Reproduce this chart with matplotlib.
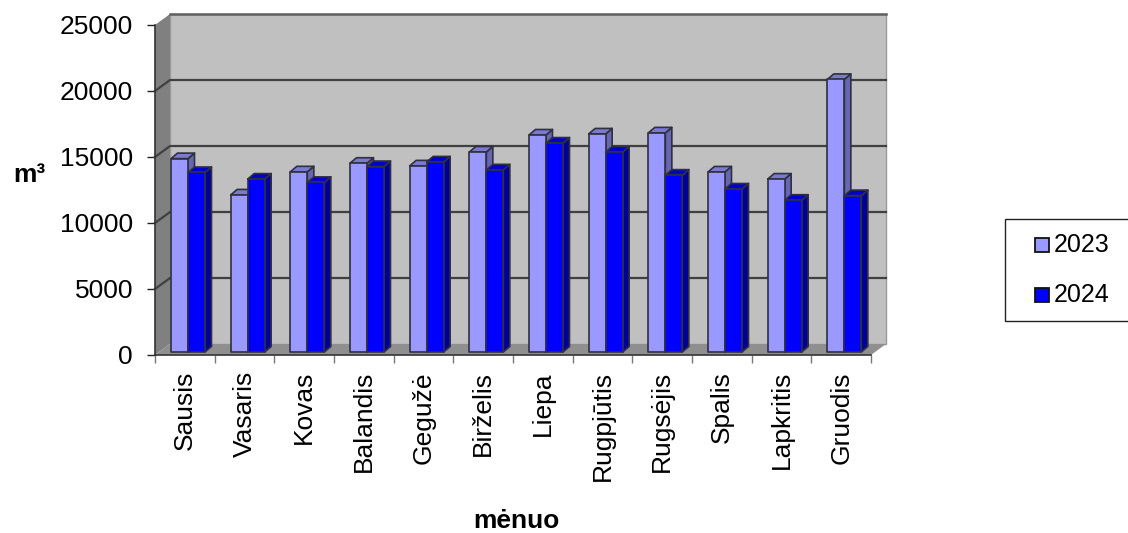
import matplotlib
matplotlib.use("Agg")
import matplotlib.pyplot as plt
import numpy as np
from matplotlib.lines import Line2D
from matplotlib.patches import Polygon, Rectangle

plt.rcParams["font.family"] = ["Liberation Sans", "DejaVu Sans"]

months = ["Sausis", "Vasaris", "Kovas", "Balandis", "Gegužė", "Birželis", "Liepa",
          "Rugpjūtis", "Rugsėjis", "Spalis", "Lapkritis", "Gruodis"]
values_2023 = [14650, 11900, 13650, 14300, 14100, 15150, 16440, 16520, 16600, 13640, 13100, 20650]
values_2024 = [13600, 13100, 12850, 14050, 14400, 13800, 15830, 15150, 13400, 12350, 11500, 11850]
y_ticks = [0, 5000, 10000, 15000, 20000, 25000]

W, H = 1128, 533
fig = plt.figure(figsize=(W / 100, H / 100), dpi=100)
# front plane of the fake 3d box, in pixels
left, right, top, bottom = 155, 871, 25, 355
ax = fig.add_axes([left / W, 1 - bottom / H, (right - left) / W, (bottom - top) / H])
ax.set_xlim(0, 12)
ax.set_ylim(0, 25000)
ax.patch.set_visible(False)

px_x = 12 / (right - left)
px_y = 25000 / (bottom - top)
wall_dx, wall_dy = 15 * px_x, 11 * px_y


def poly(points, face, edge="none", lw=0.0, z=1):
    ax.add_patch(Polygon(points, closed=True, facecolor=face, edgecolor=edge,
                         linewidth=lw, zorder=z, clip_on=False, joinstyle="round"))


# walls and floor
poly([(wall_dx, wall_dy), (12 + wall_dx, wall_dy), (12 + wall_dx, 25000 + wall_dy), (wall_dx, 25000 + wall_dy)],
     "#c0c0c0", "#9a9a9a", 1.0, 1)
poly([(0, 0), (wall_dx, wall_dy), (wall_dx, 25000 + wall_dy), (0, 25000)], "#808080", z=1)
poly([(0, 0), (12, 0), (12 + wall_dx, wall_dy), (wall_dx, wall_dy)], "#8f8f8f", z=1)

for tick in y_ticks[1:-1]:
    ax.plot([0, wall_dx, 12 + wall_dx], [tick, tick + wall_dy, tick + wall_dy],
            color="#404040", lw=1.6, zorder=2, clip_on=False, solid_joinstyle="round")
ax.plot([wall_dx, 12 + wall_dx], [25000 + wall_dy] * 2, color="#606060", lw=1.8, zorder=2, clip_on=False)

# bars, back-to-front is just left-to-right here
bar_w = 17 * px_x
bar_x0 = 16 * px_x
bar_y0 = 3 * px_y
depth_dx, depth_dy = 6.5 * px_x, 5.5 * px_y
edge = "#303040"
series = [(values_2023, "#9999ff", "#6666b3", "#7a7ad0"), (values_2024, "#0000ff", "#000099", "#0000cc")]

for i in range(len(months)):
    for s, (vals, front, side, cap) in enumerate(series):
        x0 = i + bar_x0 + s * bar_w
        x1 = x0 + bar_w
        y0 = bar_y0
        y1 = bar_y0 + vals[i]
        z = 3 + i + s * 0.1
        poly([(x1, y0), (x1 + depth_dx, y0 + depth_dy), (x1 + depth_dx, y1 + depth_dy), (x1, y1)], side, edge, 1.2, z)
        poly([(x0, y1), (x1, y1), (x1 + depth_dx, y1 + depth_dy), (x0 + depth_dx, y1 + depth_dy)], cap, edge, 1.2, z)
        poly([(x0, y0), (x1, y0), (x1, y1), (x0, y1)], front, edge, 1.2, z)

# axes
for name in ["top", "right"]:
    ax.spines[name].set_visible(False)
for name in ["left", "bottom"]:
    ax.spines[name].set_color("#333333")
    ax.spines[name].set_linewidth(1.2)
    ax.spines[name].set_zorder(30)

ax.set_yticks(y_ticks)
ax.set_xticks(np.arange(13))
ax.set_xticklabels([])
ax.tick_params(axis="y", length=5.8, width=1.0, color="#222222", labelsize=19, pad=10)
ax.tick_params(axis="x", length=5.8, width=1.0, color="#777777")

for i, name in enumerate(months):
    ax.annotate(name, (i + 0.5, 0), xytext=(0, -16 * 0.72), textcoords="offset points",
                rotation=90, ha="center", va="top", fontsize=19, annotation_clip=False)

fig.text(29.5 / W, 1 - 175 / H, "m³", fontsize=19, fontweight="bold", ha="center", va="center")
fig.text(516 / W, 1 - 521 / H, "mėnuo", fontsize=19, fontweight="bold", ha="center", va="center")

# legend box runs off the right side of the picture
fig.add_artist(Rectangle((1004.5 / W, 1 - 320.5 / H), 130 / W, 101.5 / H, transform=fig.transFigure,
                         facecolor="white", edgecolor="#222222", linewidth=1.0))
for label, color, y in [("2023", "#9999ff", 245), ("2024", "#0000ff", 295)]:
    fig.add_artist(Line2D([1042 / W], [1 - y / H], marker="s", markersize=9.5, markerfacecolor=color,
                          markeredgecolor="#111111", markeredgewidth=1.3, transform=fig.transFigure))
    fig.text(1054 / W, 1 - y / H, label, fontsize=18, ha="left", va="center")

fig.savefig("out.png", dpi=100)
